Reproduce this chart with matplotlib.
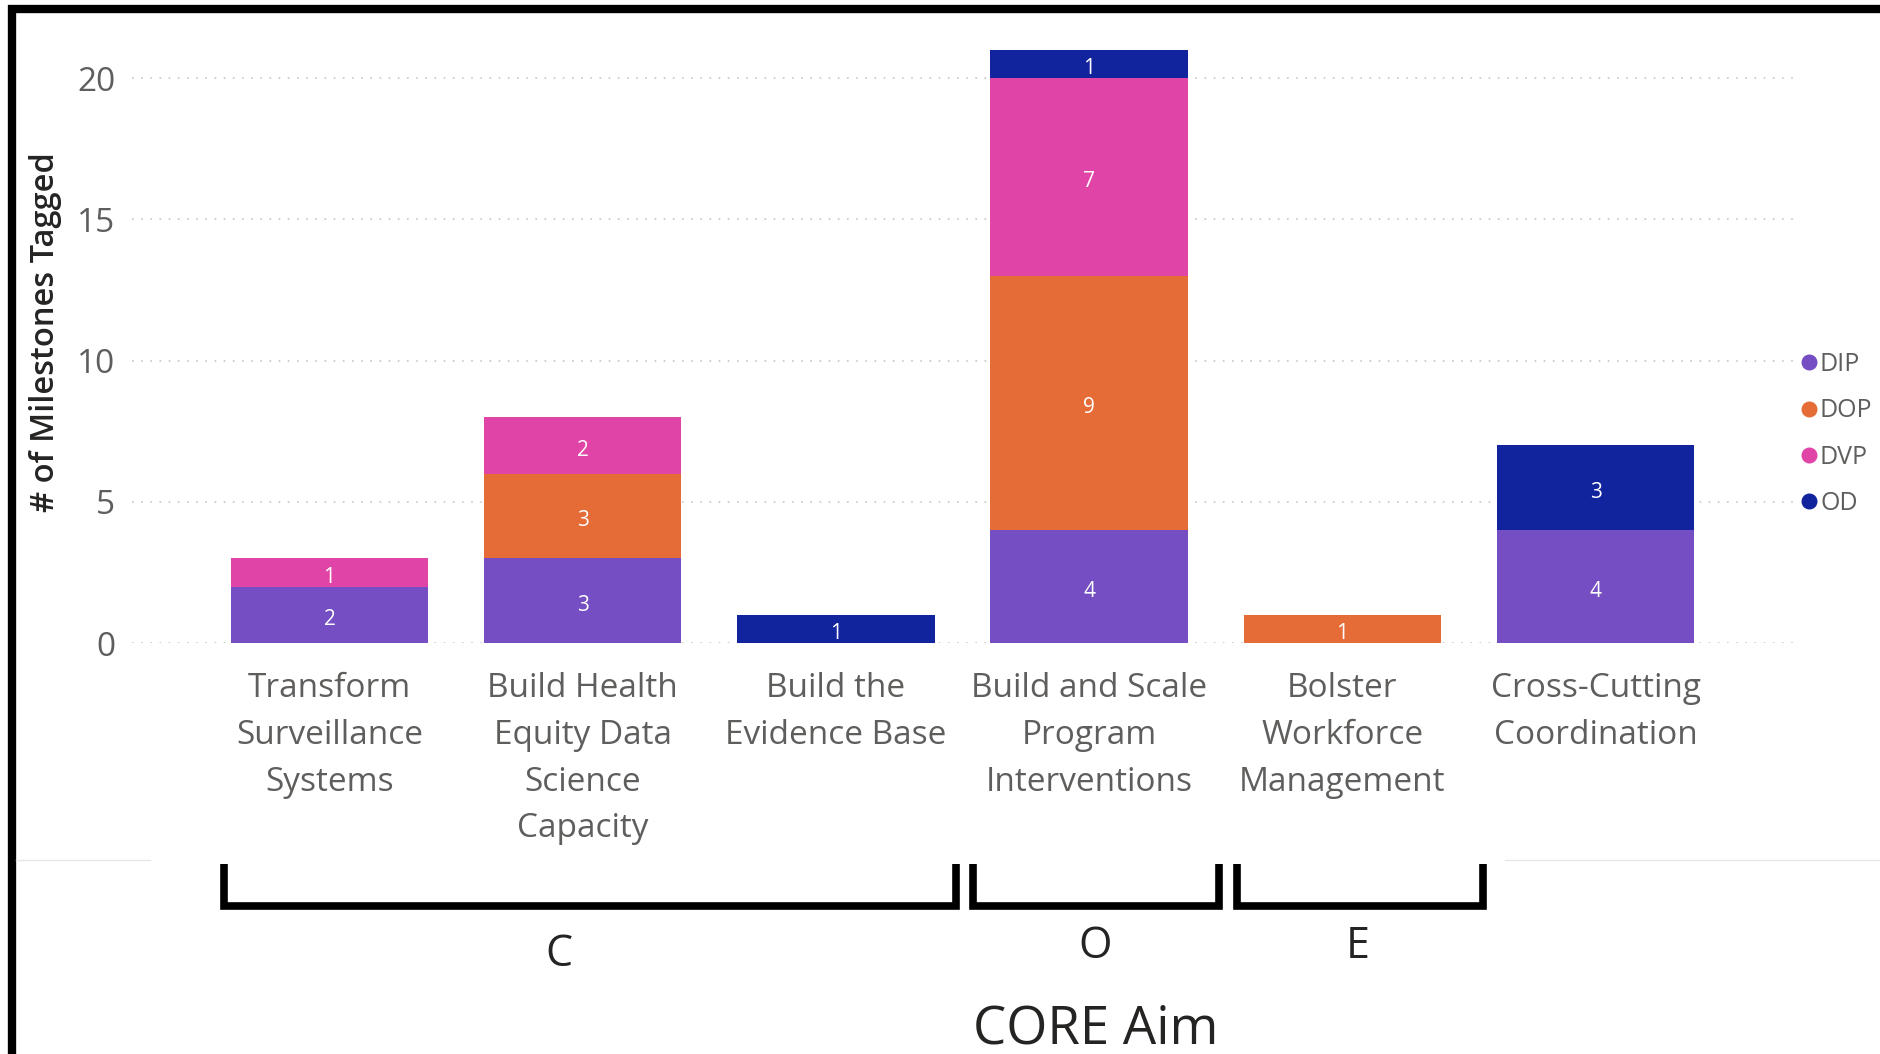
import numpy as np
import matplotlib
matplotlib.use('Agg')
import matplotlib.pyplot as plt
from matplotlib.lines import Line2D

# %% data
categories = ['Transform\nSurveillance\nSystems',
              'Build Health\nEquity Data\nScience\nCapacity',
              'Build the\nEvidence Base',
              'Build and Scale\nProgram\nInterventions',
              'Bolster\nWorkforce\nManagement',
              'Cross-Cutting\nCoordination']
series = ['DIP', 'DOP', 'DVP', 'OD']
dip = [2, 3, 0, 4, 0, 4]
dop = [0, 3, 0, 9, 1, 0]
dvp = [1, 2, 0, 7, 0, 0]
od = [0, 0, 1, 1, 0, 3]
groups = ['C', 'O', 'E']
y_ticks = [0, 5, 10, 15, 20]

colors = ['#744EC2', '#E66C37', '#E044A7', '#12239E']
gray = '#605E5C'
dark = '#252423'

plt.rcParams['font.family'] = ['Open Sans', 'DejaVu Sans']

# %% figure
W, H = 1880, 1054
fig = plt.figure(figsize=(W / 100, H / 100), dpi=100)
ax = fig.add_axes([132 / W, 1 - 643 / H, (1793 - 132) / W, (643 - 50) / H])

x = np.arange(len(categories))
bottom = np.zeros(len(categories))
for name, vals, c in zip(series, [dip, dop, dvp, od], colors):
    vals = np.array(vals, dtype=float)
    bars = ax.bar(x, vals, width=0.78, bottom=bottom, color=c, label=name)
    labs = [str(int(v)) if v > 0 else '' for v in vals]
    texts = ax.bar_label(bars, labels=labs, label_type='center', color='white', fontsize=15)
    for t in texts:
        t.xyann = (0, -3.5)
    bottom += vals

ax.set_xlim(-0.78, 5.78)
ax.set_ylim(0, 21)
ax.set_yticks(y_ticks)
ax.set_yticklabels([str(t) for t in y_ticks], color=gray, fontsize=24)
ax.set_xticks(x)
ax.set_xticklabels(categories, color=gray, fontsize=24, linespacing=1.55)
ax.tick_params(axis='both', length=0)
ax.tick_params(axis='y', pad=12)
ax.tick_params(axis='x', pad=21)
for t in y_ticks:
    ax.axhline(t, color='#C8C6C4', lw=1.2, ls=(0, (1, 4.5)), zorder=0)
for s in ax.spines.values():
    s.set_visible(False)
ax.set_ylabel('# of Milestones Tagged', color=dark, fontsize=23.5, fontweight='semibold')
ax.yaxis.set_label_coords(-0.042, 0.524)

handles = [Line2D([], [], marker='o', ls='', color=c, markersize=10.5) for c in colors]
fig.legend(handles, series, loc='center left', bbox_to_anchor=(1790 / W, 1 - 434 / H),
           frameon=False, fontsize=18, handlelength=0.5, handletextpad=0.2,
           labelspacing=0.85, labelcolor=gray, borderpad=0)

# %% overlay: border, brackets, group letters
ov = fig.add_axes([0, 0, 1, 1])
ov.set_xlim(0, W)
ov.set_ylim(H, 0)
ov.axis('off')
ov.patch.set_alpha(0)

ov.plot([12, 12, W], [H, 9, 9], color='black', lw=6, solid_joinstyle='miter')
ov.plot([16, 150], [860, 860], color='#E6E6E6', lw=1)
ov.plot([1505, W], [860, 860], color='#E6E6E6', lw=1)

spans = [(224, 956), (973, 1219), (1237, 1483)]
for x0, x1 in spans:
    ov.plot([x0, x0, x1, x1], [864, 906, 906, 864], color='black', lw=5.5,
            solid_joinstyle='miter', solid_capstyle='butt')
letter_pos = [(559, 955), (1095, 947), (1358, 947)]
for g, (lx, ly) in zip(groups, letter_pos):
    ov.text(lx, ly, g, fontsize=31, color=dark, ha='center', va='center')
ov.text(1096, 1030, 'CORE Aim', fontsize=38, color=dark, ha='center', va='center')

fig.savefig('out.png', dpi=100)
